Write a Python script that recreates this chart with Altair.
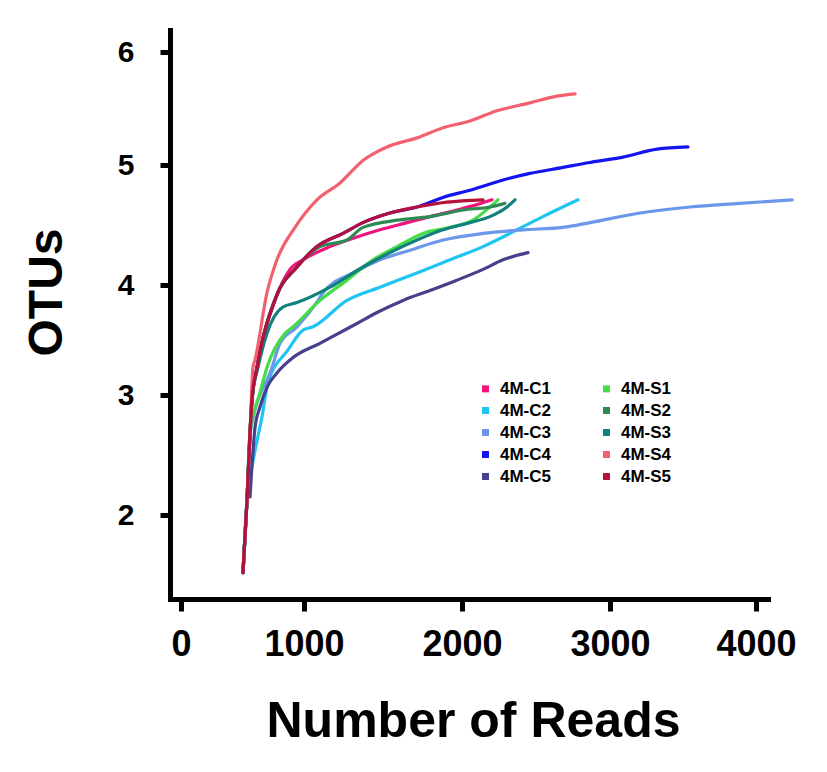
import altair as alt
import pandas as pd

# ---- data ----
series_names = ["4M-C1", "4M-C2", "4M-C3", "4M-C4", "4M-C5",
                "4M-S1", "4M-S2", "4M-S3", "4M-S4", "4M-S5"]
series_colors = ["#f0157e", "#1ec4f2", "#6a97ea", "#1414f0", "#47408c",
                 "#45dd45", "#2e8a55", "#12807c", "#f2616f", "#b3103c"]

C1_x = [504, 537, 561, 577, 618, 764, 886, 992, 1165, 1335, 1481, 1652, 1797, 1968, 2101, 2203]
C1_y = [1.52, 2.13, 2.68, 2.96, 3.25, 3.86, 4.13, 4.21, 4.32, 4.40, 4.46, 4.52, 4.57, 4.625, 4.67, 4.71]

C2_x = [504, 537, 577, 602, 659, 707, 870, 992, 1057, 1272, 1481, 1715, 1924, 2142, 2324, 2547, 2784]
C2_y = [1.52, 2.13, 2.40, 2.54, 2.82, 3.11, 3.41, 3.59, 3.62, 3.86, 3.98, 4.10, 4.21, 4.32, 4.43, 4.57, 4.71]

C3_x = [504, 537, 561, 740, 805, 943, 1089, 1120, 1310, 1481, 1671, 1880, 2142, 2412, 2682, 2865, 3205, 3548, 3890, 4247]
C3_y = [1.52, 2.13, 2.68, 3.25, 3.47, 3.62, 3.86, 3.93, 4.10, 4.21, 4.29, 4.375, 4.43, 4.46, 4.48, 4.52, 4.60, 4.65, 4.68, 4.71]

C4_x = [504, 537, 561, 577, 618, 772, 943, 1082, 1247, 1373, 1544, 1715, 1880, 2054, 2277, 2459, 2682, 2851, 3089, 3322, 3534]
C4_y = [1.52, 2.13, 2.68, 2.96, 3.25, 3.89, 4.15, 4.32, 4.43, 4.52, 4.60, 4.65, 4.73, 4.79, 4.875, 4.93, 4.98, 5.02, 5.07, 5.14, 5.16]

C5_x = [561, 602, 642, 699, 780, 911, 1101, 1335, 1462, 1627, 1797, 1968, 2142, 2277, 2446]
C5_y = [2.15, 2.73, 2.90, 3.07, 3.20, 3.34, 3.47, 3.65, 3.75, 3.86, 3.95, 4.04, 4.13, 4.21, 4.27]

S1_x = [504, 537, 561, 642, 699, 846, 911, 1101, 1272, 1437, 1589, 1753, 1924, 2074, 2189, 2243]
S1_y = [1.52, 2.13, 2.68, 3.02, 3.25, 3.56, 3.62, 3.86, 4.04, 4.21, 4.32, 4.43, 4.48, 4.54, 4.65, 4.71]

S2_x = [504, 537, 561, 577, 618, 772, 943, 1101, 1272, 1373, 1589, 1797, 2007, 2189, 2290]
S2_y = [1.52, 2.13, 2.68, 2.96, 3.25, 3.89, 4.15, 4.32, 4.375, 4.48, 4.54, 4.57, 4.625, 4.65, 4.68]

S3_x = [504, 537, 561, 577, 626, 699, 829, 943, 1165, 1373, 1544, 1715, 1880, 2054, 2189, 2304, 2358]
S3_y = [1.52, 2.13, 2.68, 2.96, 3.25, 3.56, 3.80, 3.84, 3.98, 4.15, 4.27, 4.375, 4.46, 4.52, 4.57, 4.65, 4.71]

S4_x = [504, 537, 561, 585, 602, 699, 780, 927, 1082, 1228, 1373, 1525, 1715, 1880, 2054, 2236, 2459, 2642, 2764]
S4_y = [1.52, 2.13, 2.68, 3.25, 3.32, 3.93, 4.21, 4.48, 4.71, 4.85, 5.04, 5.16, 5.24, 5.33, 5.39, 5.48, 5.55, 5.61, 5.63]

S5_x = [504, 537, 561, 577, 618, 772, 943, 1082, 1247, 1373, 1544, 1715, 1905, 2142]
S5_y = [1.52, 2.13, 2.68, 2.96, 3.25, 3.89, 4.15, 4.32, 4.43, 4.52, 4.60, 4.65, 4.69, 4.71]

x_ticks = [0, 1000, 2000, 3000, 4000]
y_ticks = [2, 3, 4, 5, 6]

all_x = [C1_x, C2_x, C3_x, C4_x, C5_x, S1_x, S2_x, S3_x, S4_x, S5_x]
all_y = [C1_y, C2_y, C3_y, C4_y, C5_y, S1_y, S2_y, S3_y, S4_y, S5_y]

rows = []
for name, xs, ys in zip(series_names, all_x, all_y):
    for i, (xv, yv) in enumerate(zip(xs, ys)):
        rows.append({"series": name, "reads": xv, "otus": yv, "order": i})
df = pd.DataFrame(rows)

W, H = 598, 569

x_scale = alt.Scale(domain=[-89, 0, 1000, 2000, 3000, 4000, 4082],
                    range=[0, 11, 134, 292, 440, 586, 598], nice=False, zero=False)
y_scale = alt.Scale(domain=[1.30, 2, 3, 4, 5, 6, 6.19],
                    range=[569, 485, 365, 255, 135, 22, 0], nice=False, zero=False)

chart = alt.Chart(df).mark_line(strokeWidth=3.2, strokeCap="round", strokeJoin="round",
                                interpolate="monotone").encode(
    x=alt.X("reads:Q", scale=x_scale,
            axis=alt.Axis(values=x_ticks, format="d", title="Number of Reads",
                          labelFontSize=36, labelPadding=16, tickSize=12,
                          titleFontSize=50, titleX=303, titleY=122,
                          titleBaseline="middle", titleAlign="center")),
    y=alt.Y("otus:Q", scale=y_scale,
            axis=alt.Axis(values=y_ticks, format="d", title="OTUs",
                          labelFontSize=30, labelPadding=26, tickSize=10,
                          titleFontSize=48, titleX=-123, titleY=262,
                          titleAngle=-90, titleBaseline="middle", titleAlign="center")),
    color=alt.Color("series:N",
                    scale=alt.Scale(domain=series_names, range=series_colors),
                    legend=alt.Legend(orient="none", legendX=307, legendY=350, columns=2,
                                      title=None, symbolType="square", symbolSize=12,
                                      symbolStrokeWidth=3.5, labelFontSize=17,
                                      labelFont="Liberation Sans", labelFontWeight="bold",
                                      labelColor="black", columnPadding=45, rowPadding=3,
                                      labelOffset=6)),
    order="order:Q",
    detail="series:N",
).properties(
    width=W, height=H,
    autosize=alt.AutoSizeParams(type="none"),
    padding={"left": 162, "top": 22, "right": 50, "bottom": 160},
).configure_view(stroke=None).configure_axis(
    grid=False, domainColor="black", domainWidth=5, tickColor="black", tickWidth=5,
    labelFont="Liberation Sans", labelFontWeight="bold", labelColor="black",
    titleFont="Liberation Sans", titleFontWeight="bold", titleColor="black",
    domainCap="square",
)

chart.save("out.html", embed_options={"renderer": "svg", "actions": False})
